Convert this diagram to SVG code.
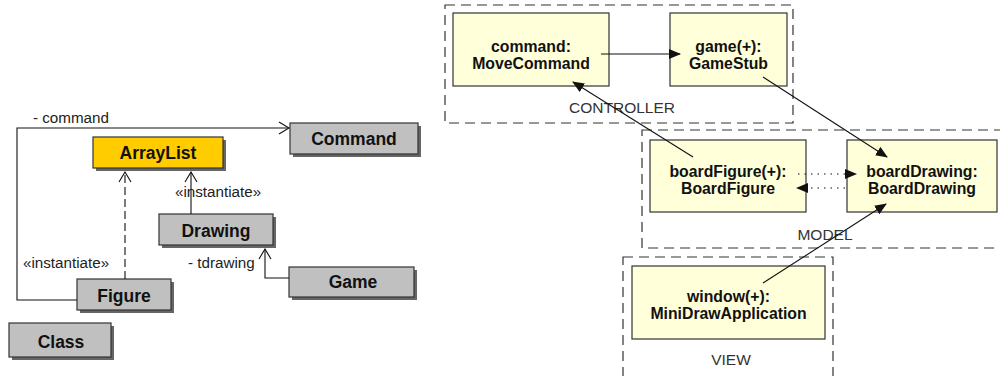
<svg xmlns="http://www.w3.org/2000/svg" width="1000" height="376" viewBox="0 0 1000 376">
  <style>
    .cls { fill: #c0c0c0; stroke: #333; stroke-width: 1.2; }
    .hot { fill: #ffcc00; stroke: #333; stroke-width: 1.2; }
    .shadow { fill: #666; }
    .obj { fill: #ffffd9; stroke: #333; stroke-width: 1.2; }
    .pkg { fill: none; stroke: #333; stroke-width: 1.2; stroke-dasharray: 10 6; }
    .cname { font-family: "Liberation Sans", Arial, sans-serif; font-weight: bold; font-size: 17.5px; fill: #111; text-anchor: middle; }
    .oname { font-family: "Liberation Sans", Arial, sans-serif; font-weight: bold; font-size: 15.8px; fill: #111; text-anchor: middle; }
    .lbl { font-family: "Liberation Sans", Arial, sans-serif; font-size: 15.2px; fill: #222; }
    .pname { font-family: "Liberation Sans", Arial, sans-serif; font-size: 15.5px; fill: #333; text-anchor: middle; }
    .ln { fill: none; stroke: #111; stroke-width: 1.1; }
    .dash { stroke-dasharray: 8 4; }
    .dot { stroke-dasharray: 1.5 5; }
  </style>
  <defs>
    <marker id="open" viewBox="0 0 12 14" refX="11" refY="7" markerWidth="12" markerHeight="14" markerUnits="userSpaceOnUse" orient="auto">
      <path d="M1,1 L11,7 L1,13" fill="none" stroke="#111" stroke-width="1.1"/>
    </marker>
    <marker id="solid" viewBox="0 0 12 10" refX="11" refY="5" markerWidth="12" markerHeight="10" markerUnits="userSpaceOnUse" orient="auto">
      <path d="M0,0 L12,5 L0,10 Z" fill="#111"/>
    </marker>
  </defs>

  <!-- packages -->
  <g id="pkg-controller">
    <rect class="pkg" x="445" y="5" width="348" height="118"/>
    <text class="pname" x="622" y="113">CONTROLLER</text>
  </g>
  <g id="pkg-model">
    <rect class="pkg" x="642" y="130" width="365" height="118"/>
    <text class="pname" x="825" y="240">MODEL</text>
  </g>
  <g id="pkg-view">
    <rect class="pkg" x="623" y="257" width="210" height="130"/>
    <text class="pname" x="731" y="365">VIEW</text>
  </g>

  <!-- class diagram -->
  <g id="class-command">
    <rect class="shadow" x="293" y="126" width="128" height="31"/>
    <rect class="cls" x="290" y="123" width="128" height="31"/>
    <text class="cname" x="354" y="145">Command</text>
  </g>
  <g id="class-arraylist">
    <rect class="shadow" x="96" y="140" width="130" height="31"/>
    <rect class="hot" x="93" y="137" width="130" height="31"/>
    <text class="cname" x="158" y="159">ArrayList</text>
  </g>
  <g id="class-drawing">
    <rect class="shadow" x="162" y="217" width="114" height="31"/>
    <rect class="cls" x="159" y="214" width="114" height="31"/>
    <text class="cname" x="216" y="237">Drawing</text>
  </g>
  <g id="class-figure">
    <rect class="shadow" x="80" y="282" width="94" height="31"/>
    <rect class="cls" x="77" y="279" width="94" height="31"/>
    <text class="cname" x="124" y="302">Figure</text>
  </g>
  <g id="class-game">
    <rect class="shadow" x="292" y="270" width="125" height="30"/>
    <rect class="cls" x="289" y="267" width="125" height="30"/>
    <text class="cname" x="353" y="288">Game</text>
  </g>
  <g id="class-class">
    <rect class="shadow" x="12" y="326" width="102" height="34"/>
    <rect class="cls" x="9" y="323" width="102" height="34"/>
    <text class="cname" x="61" y="348">Class</text>
  </g>

  <!-- object diagram -->
  <g id="obj-command">
    <rect class="obj" x="453" y="13" width="156" height="73"/>
    <text class="oname" x="531" y="52">command:</text>
    <text class="oname" x="531" y="69">MoveCommand</text>
  </g>
  <g id="obj-game">
    <rect class="obj" x="670" y="13" width="117" height="73"/>
    <text class="oname" x="728.5" y="52">game(+):</text>
    <text class="oname" x="728.5" y="69">GameStub</text>
  </g>
  <g id="obj-boardfigure">
    <rect class="obj" x="650" y="140" width="156" height="72"/>
    <text class="oname" x="728" y="177">boardFigure(+):</text>
    <text class="oname" x="728" y="194">BoardFigure</text>
  </g>
  <g id="obj-boarddrawing">
    <rect class="obj" x="847" y="140" width="150" height="72"/>
    <text class="oname" x="922" y="177">boardDrawing:</text>
    <text class="oname" x="922" y="194">BoardDrawing</text>
  </g>
  <g id="obj-window">
    <rect class="obj" x="632" y="266" width="193" height="73"/>
    <text class="oname" x="728.5" y="302">window(+):</text>
    <text class="oname" x="728.5" y="319">MiniDrawApplication</text>
  </g>

  <!-- connectors -->
  <g id="connectors">
    <polyline class="ln" points="77,300 17,300 17,128 289,128" marker-end="url(#open)"/>
    <text class="lbl" x="33" y="123">- command</text>
    <line class="ln dash" x1="125" y1="279" x2="125" y2="172" marker-end="url(#open)"/>
    <text class="lbl" x="23" y="268">«instantiate»</text>
    <line class="ln" x1="191" y1="214" x2="191" y2="172" marker-end="url(#open)"/>
    <text class="lbl" x="175" y="197">«instantiate»</text>
    <polyline class="ln" points="289,278 265,278 265,249" marker-end="url(#open)"/>
    <text class="lbl" x="188" y="268">- tdrawing</text>

    <line class="ln" x1="601" y1="54" x2="680" y2="54" marker-end="url(#solid)"/>
    <line class="ln" x1="763" y1="77" x2="887" y2="157" marker-end="url(#solid)"/>
    <line class="ln" x1="693" y1="157" x2="573" y2="82" marker-end="url(#solid)"/>
    <line class="ln" x1="763" y1="283" x2="886" y2="204" marker-end="url(#solid)"/>
    <line class="ln dot" x1="798" y1="174" x2="856" y2="174" marker-end="url(#solid)"/>
    <line class="ln dot" x1="845" y1="188" x2="797" y2="188" marker-end="url(#solid)"/>
  </g>
</svg>
